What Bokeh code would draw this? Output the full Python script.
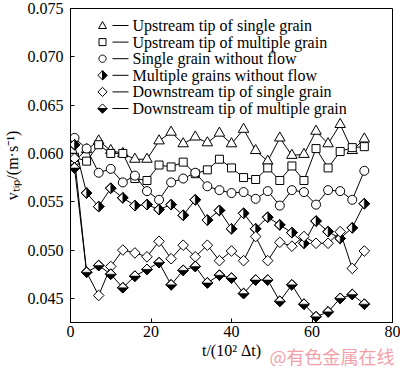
import numpy as np
from bokeh.plotting import figure
from bokeh.models import (ColumnDataSource, Range1d, FixedTicker, NumeralTickFormatter,
                          Label, PolyAnnotation, Title)
from bokeh.embed import file_html
from bokeh.resources import INLINE

# ---------------- data ----------------
t = [1, 4, 7, 10, 13, 16, 19, 22, 25, 28, 31, 34, 37, 40, 43, 46, 49, 52, 55, 58, 61, 64, 67, 70, 73]

up_single = [0.0592, 0.0604, 0.0613, 0.0603, 0.0600, 0.0594, 0.0594, 0.0613, 0.0622, 0.0610,
             0.0617, 0.0611, 0.0621, 0.0610, 0.0625, 0.0603, 0.0592, 0.0616, 0.0598, 0.0599,
             0.0623, 0.0610, 0.0630, 0.0603, 0.0615]
up_multi = [0.0596, 0.0592, 0.0609, 0.0600, 0.0600, 0.0574, 0.0572, 0.0588, 0.0586, 0.0591,
            0.0579, 0.0583, 0.0594, 0.0585, 0.0575, 0.0573, 0.0585, 0.0572, 0.0587, 0.0572,
            0.0605, 0.0585, 0.0602, 0.0606, 0.0607]
single_noflow = [0.0616, 0.0605, 0.0580, 0.0584, 0.0570, 0.0577, 0.0561, 0.0552, 0.0570, 0.0574,
                 0.0580, 0.0566, 0.0562, 0.0559, 0.0560, 0.0553, 0.0561, 0.0546, 0.0562, 0.0560,
                 0.0547, 0.0562, 0.0561, 0.0552, 0.0582]
multi_noflow = [0.0609, 0.0559, 0.0545, 0.0564, 0.0554, 0.0546, 0.0547, 0.0542, 0.0547, 0.0536,
                0.0552, 0.0531, 0.0541, 0.0522, 0.0538, 0.0522, 0.0534, 0.0526, 0.0518, 0.0507,
                0.0530, 0.0519, 0.0512, 0.0523, 0.0548]
down_single = [0.0595, 0.0477, 0.0453, 0.0483, 0.0500, 0.0497, 0.0493, 0.0509, 0.0491, 0.0505,
               0.0493, 0.0505, 0.0489, 0.0499, 0.0489, 0.0514, 0.0489, 0.0508, 0.0504, 0.0514,
               0.0507, 0.0507, 0.0519, 0.0481, 0.0499]
down_multi = [0.0585, 0.0477, 0.0484, 0.0475, 0.0461, 0.0473, 0.0480, 0.0487, 0.0464, 0.0479,
              0.0483, 0.0466, 0.0474, 0.0471, 0.0455, 0.0469, 0.0469, 0.0447, 0.0464, 0.0444,
              0.0431, 0.0436, 0.0450, 0.0454, 0.0444]

names = ["Upstream tip of single grain", "Upstream tip of multiple grain",
         "Single grain without flow", "Multiple grains without flow",
         "Downstream tip of single grain", "Downstream tip of multiple grain"]

x_ticks = [0, 20, 40, 60, 80]
y_ticks = [0.045, 0.050, 0.055, 0.060, 0.065, 0.070, 0.075]

x_label = "t/(10² Δt)"
y_label = "vₜᵢₚ/(m·s⁻¹)"
watermark = "@有色金属在线"

# ---------------- figure ----------------
X0, X1 = 0, 80
Y0, Y1 = 0.0425, 0.0750
FW, FH = 322, 314
FONT = "Liberation Serif"

p = figure(frame_width=FW, frame_height=FH,
           x_range=Range1d(X0, X1), y_range=Range1d(Y0, Y1),
           output_backend="svg", toolbar_location=None,
           min_border_left=70, min_border_right=8, min_border_top=8, min_border_bottom=44)
p.grid.visible = False
p.outline_line_color = "black"
p.outline_line_width = 1
p.background_fill_color = "white"
p.border_fill_color = "white"

for ax in (p.xaxis[0], p.yaxis[0]):
    ax.axis_line_color = "black"
    ax.axis_line_width = 1
    ax.major_tick_in = 4
    ax.major_tick_out = 0
    ax.minor_tick_in = 0
    ax.minor_tick_out = 0
    ax.major_tick_line_color = "black"
    ax.major_label_text_font = FONT
    ax.major_label_text_font_size = "16px"
    ax.major_label_text_color = "black"
    ax.axis_label_text_font = FONT
    ax.axis_label_text_font_size = "16px"
    ax.axis_label_text_font_style = "normal"
    ax.axis_label_text_color = "black"

p.xaxis.ticker = FixedTicker(ticks=x_ticks)
p.yaxis.ticker = FixedTicker(ticks=y_ticks)
p.yaxis.formatter = NumeralTickFormatter(format="0.000")
p.xaxis.major_label_standoff = 3
p.yaxis.major_label_standoff = 7
p.yaxis.axis_label = y_label
p.yaxis.axis_label_standoff = 4
# small blank spacer under the x tick labels; the axis title and the watermark
# are bottom titles that sit on the same line right below it
p.xaxis.axis_label = " "
p.xaxis.axis_label_text_font_size = "6px"
p.xaxis.axis_label_standoff = 0

# half-size of a diamond (pixels) converted to data units
HALF = 5.3
hx = HALF * (X1 - X0) / FW
hy = HALF * (Y1 - Y0) / FH


def series(vals, marker, size, angle=0.0, half=None):
    src = ColumnDataSource(dict(t=t, v=vals))
    p.line("t", "v", source=src, line_color="black", line_width=1)
    p.scatter("t", "v", source=src, marker=marker, size=size, angle=angle,
              fill_color="white", line_color="black", line_width=1)
    if half is not None:
        if half == "bottom":
            xs = [[a - hx, a + hx, a] for a in t]
            ys = [[b, b, b - hy] for b in vals]
        else:  # right half
            xs = [[a, a + hx, a] for a in t]
            ys = [[b + hy, b, b - hy] for b in vals]
        p.patches(xs, ys, fill_color="black", line_color="black", line_width=0.5)
        p.scatter("t", "v", source=src, marker=marker, size=size, angle=angle,
                  fill_alpha=0, line_color="black", line_width=1)


series(up_single, "triangle", 10.5)
series(up_multi, "square", 8)
series(single_noflow, "circle", 9)
series(multi_noflow, "square", 7.5, angle=np.pi / 4, half="right")
series(down_single, "square", 7.5, angle=np.pi / 4)
series(down_multi, "square", 7.5, angle=np.pi / 4, half="bottom")

# ---------------- legend (drawn in screen units inside the frame) ----------------
ROW0, PITCH = 17.0, 16.6     # first row centre below frame top, row pitch
MX, LX0, LX1, TX = 32, 42, 58, 62


def poly(xs, ys, fill):
    p.add_layout(PolyAnnotation(xs=list(xs), ys=list(ys), xs_units="screen", ys_units="screen",
                                fill_color=fill, fill_alpha=1.0 if fill else 0.0,
                                line_color="black", line_alpha=1.0, line_width=1))


shapes = ["triangle", "square", "circle", "diamond_r", "diamond", "diamond_b"]
for i, (name, shp) in enumerate(zip(names, shapes)):
    yc = FH - (ROW0 + PITCH * i)
    poly([LX0, LX1], [yc, yc], None)
    if shp == "triangle":
        poly([MX - 4, MX + 4, MX], [yc - 3, yc - 3, yc + 4], "white")
    elif shp == "square":
        poly([MX - 3.5, MX + 3.5, MX + 3.5, MX - 3.5], [yc - 3.5, yc - 3.5, yc + 3.5, yc + 3.5], "white")
    elif shp == "circle":
        a = np.linspace(0, 2 * np.pi, 24, endpoint=False)
        poly(MX + 3.6 * np.cos(a), yc + 3.6 * np.sin(a), "white")
    else:
        d = 4.6
        poly([MX - d, MX, MX + d, MX], [yc, yc + d, yc, yc - d], "white")
        if shp == "diamond_r":
            poly([MX, MX + d, MX], [yc + d, yc, yc - d], "black")
        elif shp == "diamond_b":
            poly([MX - d, MX + d, MX], [yc, yc, yc - d], "black")
    p.add_layout(Label(x=TX, y=yc, x_units="screen", y_units="screen", text=name,
                       text_font=FONT, text_font_size="16px", text_color="black",
                       text_baseline="middle"))

# axis title and watermark on one line below the tick labels
xt = Title(text=x_label, align="center", vertical_align="bottom", standoff=-20,
           text_font=FONT, text_font_size="16px", text_font_style="normal", text_color="black")
p.add_layout(xt, "below")
wm = Title(text=watermark, align="right", vertical_align="bottom", offset=-2, standoff=-40,
           text_font="Noto Sans CJK SC", text_font_size="18px", text_font_style="normal",
           text_color="#f08c98", text_alpha=0.85)
p.add_layout(wm, "below")

open("out.html", "w").write(file_html(p, INLINE))
